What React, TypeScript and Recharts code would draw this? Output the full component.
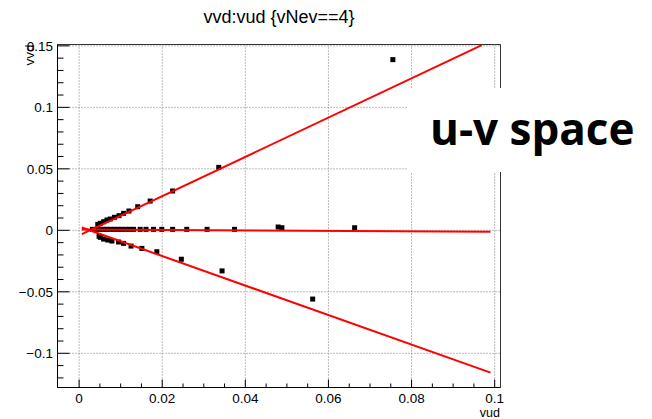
import React from "react";
import {
  ReferenceArea,
  ReferenceLine,
  Scatter,
  ScatterChart,
  XAxis,
  YAxis,
} from "recharts";

// selected events, upper branch (vud, vvd)
const upperU = [0.0045, 0.0051, 0.0059, 0.0067, 0.0075, 0.0085, 0.0096, 0.0107, 0.012, 0.0141, 0.0171, 0.0225, 0.0336, 0.0755];
const upperV = [0.0048, 0.0057, 0.007, 0.0084, 0.0092, 0.0106, 0.0119, 0.0138, 0.0157, 0.0192, 0.0238, 0.032, 0.0512, 0.1388];

// middle branch
const midU = [0.0032, 0.0042, 0.005, 0.0058, 0.0066, 0.0075, 0.0084, 0.0093, 0.0102, 0.0112, 0.0121, 0.0131, 0.0147, 0.0161, 0.0179, 0.0199, 0.0225, 0.0259, 0.0308, 0.0374, 0.0479, 0.0488, 0.0663];
const midV = [0.0008, 0.0008, 0.0008, 0.0008, 0.0008, 0.0008, 0.0008, 0.0008, 0.0008, 0.0008, 0.0008, 0.0008, 0.0008, 0.0008, 0.0008, 0.0008, 0.0008, 0.0008, 0.0008, 0.0008, 0.0027, 0.0021, 0.0021];

// lower branch
const lowerU = [0.0048, 0.0051, 0.0059, 0.0069, 0.0079, 0.0095, 0.0107, 0.0125, 0.0151, 0.0187, 0.0246, 0.0344, 0.0562];
const lowerV = [-0.0048, -0.0057, -0.0071, -0.0079, -0.0087, -0.0095, -0.0106, -0.0128, -0.0147, -0.0174, -0.0235, -0.033, -0.0559];

// straight-line fits (end points)
const fitUpperU = [0.00065, 0.0969];
const fitUpperV = [-0.0031, 0.1506];
const fitMidU = [0.00065, 0.099];
const fitMidV = [0.0007, -0.0011];
const fitLowerU = [0.00065, 0.099];
const fitLowerV = [0.0023, -0.1157];

const xTicks = [0, 0.005, 0.01, 0.015, 0.02, 0.025, 0.03, 0.035, 0.04, 0.045, 0.05, 0.055, 0.06, 0.065, 0.07, 0.075, 0.08, 0.085, 0.09, 0.095, 0.1];
const xLabels = [0, 0.02, 0.04, 0.06, 0.08, 0.1];
const yTicks = [-0.12, -0.11, -0.1, -0.09, -0.08, -0.07, -0.06, -0.05, -0.04, -0.03, -0.02, -0.01, 0, 0.01, 0.02, 0.03, 0.04, 0.05, 0.06, 0.07, 0.08, 0.09, 0.1, 0.11, 0.12, 0.13, 0.14, 0.15];
const yLabels = [-0.1, -0.05, 0, 0.05, 0.1, 0.15];

const X_DOMAIN = [-0.0052, 0.1014];
const Y_DOMAIN = [-0.1278, 0.1511];

const zip = (us: number[], vs: number[]) => us.map((u, i) => ({ u, v: vs[i] }));

const tickFont = "'Liberation Sans', Arial, sans-serif";
const fmt = (v: number) => String(v).replace("-", "\u2212");

const Square = (props: any) => {
  const { cx, cy } = props;
  if (cx == null || cy == null) return <g />;
  return <rect x={cx - 2.5} y={cy - 2.5} width={5} height={5} fill="#000" />;
};

const NoShape = () => <g />;

const XTick = (props: any) => {
  const { x, y, payload } = props;
  const major = xLabels.includes(payload.value);
  return (
    <g>
      <line x1={x} x2={x} y1={y} y2={y - (major ? 8 : 4)} stroke="#000" />
      {major && (
        <text x={x} y={y + 15.5} textAnchor="middle" fontFamily={tickFont} fontSize={13.5} fill="#000">
          {fmt(payload.value)}
        </text>
      )}
    </g>
  );
};

const YTick = (props: any) => {
  const { x, y, payload } = props;
  const major = yLabels.includes(payload.value);
  return (
    <g>
      <line x1={x} x2={x + (major ? 12 : 6)} y1={y} y2={y} stroke="#000" />
      {major && (
        <text x={x - 4.5} y={y + 4.9} textAnchor="end" fontFamily={tickFont} fontSize={13.5} fill="#000">
          {fmt(payload.value)}
        </text>
      )}
    </g>
  );
};

export default function App() {
  return (
    <div style={{ position: "absolute", left: 0, top: 0, width: 652, height: 419, background: "#fff" }}>
      <ScatterChart
        width={652}
        height={419}
        margin={{ top: 44.5, right: 151.5, bottom: 0, left: 0 }}
      >
        <XAxis
          type="number"
          dataKey="u"
          domain={X_DOMAIN}
          allowDataOverflow
          ticks={xTicks}
          interval={0}
          height={31.5}
          tickSize={0}
          tickMargin={0}
          tickLine={false}
          axisLine={{ stroke: "#000" }}
          tick={<XTick />}
        />
        <YAxis
          type="number"
          dataKey="v"
          domain={Y_DOMAIN}
          allowDataOverflow
          ticks={yTicks}
          interval={0}
          width={57.5}
          tickSize={0}
          tickMargin={0}
          tickLine={false}
          axisLine={{ stroke: "#000" }}
          tick={<YTick />}
        />
        {xLabels.map((v) => (
          <ReferenceLine key={"gx" + v} x={v} stroke="#777" strokeDasharray="1 2" />
        ))}
        {yLabels.map((v) => (
          <ReferenceLine key={"gy" + v} y={v} stroke="#777" strokeDasharray="1 2" />
        ))}
        <ReferenceArea
          x1={X_DOMAIN[0]}
          x2={X_DOMAIN[1]}
          y1={Y_DOMAIN[0]}
          y2={Y_DOMAIN[1]}
          fill="none"
          fillOpacity={0}
          stroke="#333"
          strokeOpacity={1}
        />
        <Scatter data={zip(upperU, upperV)} shape={<Square />} isAnimationActive={false} />
        <Scatter data={zip(midU, midV)} shape={<Square />} isAnimationActive={false} />
        <Scatter data={zip(lowerU, lowerV)} shape={<Square />} isAnimationActive={false} />
        <Scatter
          data={zip(fitUpperU, fitUpperV)}
          shape={<NoShape />}
          line={{ stroke: "#ff0000", strokeWidth: 2 }}
          isAnimationActive={false}
        />
        <Scatter
          data={zip(fitMidU, fitMidV)}
          shape={<NoShape />}
          line={{ stroke: "#ff0000", strokeWidth: 2 }}
          isAnimationActive={false}
        />
        <Scatter
          data={zip(fitLowerU, fitLowerV)}
          shape={<NoShape />}
          line={{ stroke: "#ff0000", strokeWidth: 2 }}
          isAnimationActive={false}
        />
      </ScatterChart>
      <svg
        width={652}
        height={419}
        style={{ position: "absolute", left: 0, top: 0, pointerEvents: "none" }}
      >
        <text x={279} y={22.5} textAnchor="middle" fontFamily={tickFont} fontSize={18} fill="#000">
          {"vvd:vud {vNev==4}"}
        </text>
        <text x={500} y={417} textAnchor="end" fontFamily={tickFont} fontSize={12.5} fill="#000">
          vud
        </text>
        <text
          x={34}
          y={44.5}
          transform="rotate(-90 34 44.5)"
          textAnchor="end"
          fontFamily={tickFont}
          fontSize={13.5}
          fill="#000"
        >
          vvd
        </text>
        <rect x={408} y={88} width={244} height={84} fill="#fff" />
        <text x={430} y={145} fontFamily="'Open Sans', sans-serif" fontWeight={700} fontSize={44} fill="#000">
          u-v space
        </text>
      </svg>
    </div>
  );
}
